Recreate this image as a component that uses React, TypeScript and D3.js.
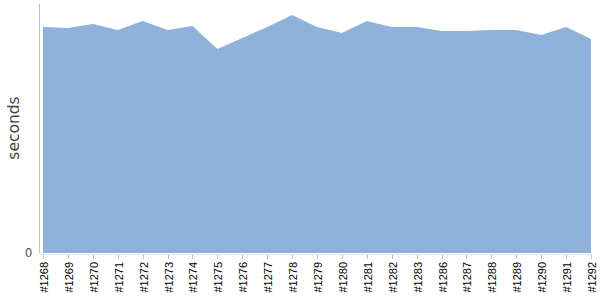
import React from "react";
import * as d3 from "d3";

const categories = ["#1268","#1269","#1270","#1271","#1272","#1273","#1274","#1275","#1276","#1277","#1278","#1279","#1280","#1281","#1282","#1283","#1286","#1287","#1288","#1289","#1290","#1291","#1292"];
const values = [226,225,229,223,232,223,227,204,215,226,238,226,220,232,226,226,222,222,223,223,218,226,214];
const yTicks = [0];

export default function App() {
  const W = 600, H = 300;
  const left = 43, right = 591, top = 4, bottom = 253;
  const x = d3.scalePoint<string>().domain(categories).range([left, right]);
  const y = d3.scaleLinear().domain([0, 249]).range([bottom, top]);
  const area = d3.area<number>()
    .x((_, i) => x(categories[i]) as number)
    .y0(y(0))
    .y1((d) => y(d));
  return (
    <svg width={W} height={H} style={{ position: "absolute", left: 0, top: 0, fontFamily: "Liberation Sans, Arial, sans-serif" }}>
      <path d={area(values) || ""} fill="#8fb1db" />
      <line x1={39.5} x2={39.5} y1={top} y2={bottom} stroke="#c0c0c0" strokeWidth={1} />
      <line x1={39.5} x2={591.5} y1={254.5} y2={254.5} stroke="#e4e4e4" strokeWidth={1} />
      {yTicks.map((t) => (
        <text key={t} x={32} y={y(t) + 4} textAnchor="end" fontSize={12} fill="#444">{t}</text>
      ))}
      {categories.map((c) => {
        const cx = Math.round(x(c) as number) + 0.5;
        return (
          <g key={c}>
            <line x1={cx} x2={cx} y1={255} y2={259} stroke="#c0c0c0" />
            <text transform={`translate(${cx + 4},262) rotate(-90)`} textAnchor="end" fontSize={11} fill="#000">{c}</text>
          </g>
        );
      })}
      <text transform={`translate(19,128) rotate(-90)`} textAnchor="middle" fontSize={15.5} fill="#444" style={{ fontFamily: "DejaVu Sans, sans-serif" }}>seconds</text>
    </svg>
  );
}
